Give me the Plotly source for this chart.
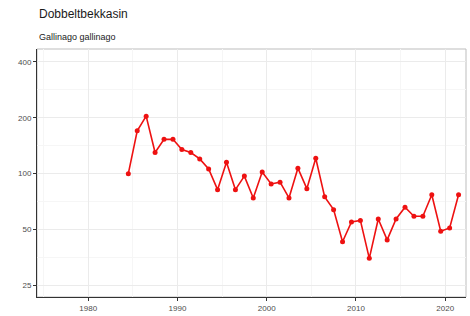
import plotly.graph_objects as go

years = list(range(1984, 2022))
index_values = [100, 170, 204, 130, 153, 153, 135, 130, 120, 106,
                82, 115, 82, 97, 74, 102, 88, 90, 74, 107,
                83, 121, 75, 64, 43, 55, 56, 35, 57, 44,
                57, 66, 59, 59, 77, 49, 51, 77]
y_ticks = [25, 50, 100, 200, 400]
y_minor = [17.7, 35.36, 70.71, 141.42, 282.84]
x_tick_years = [1980, 1990, 2000, 2010, 2020]

title = "Dobbeltbekkasin"
subtitle = "Gallinago gallinago"

# points are placed at mid-year dates
dates = [f"{y}-07-01" for y in years]

fig = go.Figure()
fig.add_trace(go.Scatter(
    x=dates, y=index_values, mode="lines+markers",
    line=dict(color="#ee1111", width=1.6),
    marker=dict(color="#ee1111", size=5),
    hoverinfo="skip", showlegend=False,
))

grid = "#ebebeb"
fig.update_layout(
    width=470, height=316,
    margin=dict(l=37, r=4, t=49, b=19),
    paper_bgcolor="white", plot_bgcolor="white",
    font=dict(family="Liberation Sans, Arial, sans-serif", color="#4d4d4d", size=8),
    annotations=[
        dict(text=title, x=0, y=1, xref="paper", yref="paper", xanchor="left", yanchor="bottom",
             yshift=26, showarrow=False, font=dict(size=12, color="#1a1a1a")),
        dict(text=subtitle, x=0, y=1, xref="paper", yref="paper", xanchor="left", yanchor="bottom",
             yshift=5, showarrow=False, font=dict(size=9, color="#1a1a1a")),
    ],
)
fig.update_xaxes(
    type="date", range=["1974-04-08", "2022-05-01"],
    tickvals=[f"{y}-01-01" for y in x_tick_years],
    ticktext=[str(y) for y in x_tick_years],
    ticks="outside", ticklen=3, tickcolor="#333333", tickwidth=1,
    showgrid=True, gridcolor=grid, gridwidth=1,
    minor=dict(tickvals=[f"{y + 5}-01-01" for y in [1970] + x_tick_years], showgrid=True,
               gridcolor="#f6f6f6", gridwidth=1, ticks=""),
    showline=True, linecolor="#333333", linewidth=1, mirror=False,
    zeroline=False,
)
fig.update_yaxes(
    type="log", range=[1.336, 2.671],
    tickvals=y_ticks, ticktext=[str(v) for v in y_ticks],
    ticks="outside", ticklen=3, tickcolor="#333333", tickwidth=1,
    showgrid=True, gridcolor=grid, gridwidth=1,
    minor=dict(tickvals=y_minor, showgrid=True, gridcolor="#f6f6f6", gridwidth=1, ticks=""),
    showline=True, linecolor="#333333", linewidth=1, mirror=False,
    zeroline=False,
)
# light panel border on top/right
fig.add_shape(type="rect", xref="paper", yref="paper", x0=0, y0=0, x1=1, y1=1,
              line=dict(color="#bdbdbd", width=1), layer="below")

fig.write_html("out.html", config={"displayModeBar": False, "staticPlot": True},
               post_script="document.body.style.margin='0';document.body.style.overflow='hidden';")
